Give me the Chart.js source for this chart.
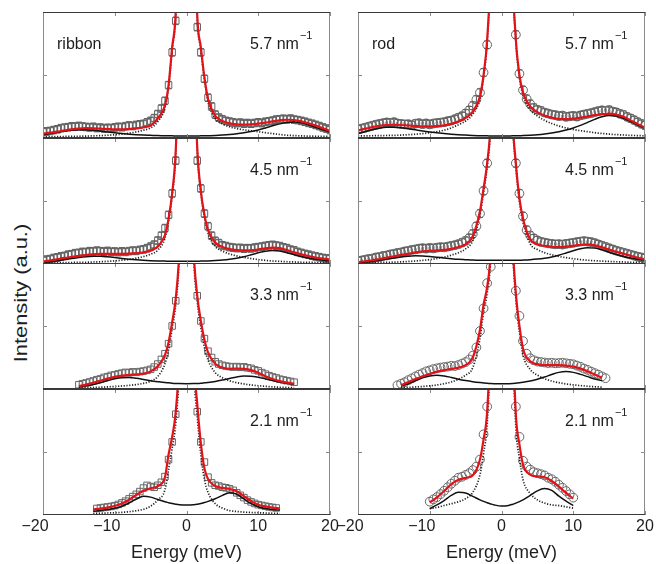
<!DOCTYPE html>
<html>
<head>
<meta charset="utf-8">
<script src="https://cdn.jsdelivr.net/npm/chart.js@4.4.1/dist/chart.umd.min.js"></script>
<style>
  html, body { margin: 0; padding: 0; background: #fff; }
  #figure { position: relative; width: 656px; height: 564px; overflow: hidden; font-family: "Liberation Sans", Arial, sans-serif; }
  #figure canvas { position: absolute; }
  #ylabel {
    position: absolute; left: 20px; top: 293px;
    transform: translate(-50%, -50%) rotate(-90deg) scaleX(1.15);
    white-space: nowrap; font-size: 19px; line-height: 1; color: #1e1e1e;
  }
</style>
</head>
<body>
<div id="figure"><div id="ylabel">Intensity (a.u.)</div></div>
<script>
// energy grids (meV)
const dataEnergy = [-20,-19.5,-19,-18.5,-18,-17.5,-17,-16.5,-16,-15.5,
  -15,-14.5,-14,-13.5,-13,-12.5,-12,-11.5,-11,-10.5,
  -10,-9.5,-9,-8.5,-8,-7.5,-7,-6.5,-6,-5.5,
  -5,-4.5,-4,-3.5,-3,-2.5,-2,-1.5,-1,-0.5,
  0,0.5,1,1.5,2,2.5,3,3.5,4,4.5,
  5,5.5,6,6.5,7,7.5,8,8.5,9,9.5,
  10,10.5,11,11.5,12,12.5,13,13.5,14,14.5,
  15,15.5,16,16.5,17,17.5,18,18.5,19,19.5,
  20];
const fitEnergy = [-20,-19,-18,-17,-16,-15,-14,-13,-12,-11,
  -10,-9,-8,-7,-6,-5,-4,-3,-2.5,-2,
  -1.5,-1,0,1,1.5,2,2.5,3,4,5,
  6,7,8,9,10,11,12,13,14,15,
  16,17,18,19,20];

const sampleNames = ["ribbon", "rod"];
const momentumLabels = ["5.7", "4.5", "3.3", "2.1"];
const xTicks = [-20, -10, 0, 10, 20];
const yTicks = [50];
const errorHalf = [3, 3, 0, 0];

// ---- ribbon 5.7 ----
const ribbon57Points = [4.8,5.2,5.6,6.3,6.9,7.8,8.2,8.6,9.2,9.0,
  9.6,9.1,8.8,8.4,8.9,7.9,8.3,7.6,8.1,7.8,
  8.4,8.9,8.6,9.4,9.9,9.5,10.4,10.8,11.2,12.4,
  13.6,15.8,19.0,23.4,29.5,42,68,93,null,null,
  null,null,null,88,68,47,32,25,18.6,16.2,
  14.8,13.6,13.0,12.4,11.8,12.2,11.4,11.9,11.3,11.9,
  12.4,11.8,12.9,13.3,13.8,14.6,14.9,15.3,14.8,15.4,
  14.6,14.2,13.6,12.9,12.0,11.3,10.4,9.5,8.4,7.5,
  6.4];
const ribbon57Fit = [3.4,4.2,5,6,6.9,7.5,7.8,7.7,7.4,7.1,
  6.9,6.9,7.1,7.6,8.5,9.8,15.5,26,42,72,
  100,200,500,200,97,72,48,31,17.5,13.5,
  11.6,10.8,10.6,10.8,11.4,12.2,13.2,14,14.5,14.3,
  13.2,11.6,9.8,7.7,5.6];
const ribbon57Modes = [2.5,3.5,4.5,5.5,6.2,6.5,6.5,6.1,5.5,4.8,
  4.1,3.5,3.0,2.6,2.3,2.1,1.9,1.8,1.7,1.7,
  1.6,1.6,1.6,1.6,1.6,1.7,1.7,1.8,2.0,2.3,
  2.7,3.3,4.1,5.1,6.4,8.0,9.7,11.2,12.3,12.6,
  12.0,10.5,8.5,6.5,4.6];
const ribbon57Central = [1.0,1.0,1.1,1.2,1.3,1.4,1.5,1.7,1.9,2.2,
  2.6,3.1,3.8,4.8,6.2,8.0,13,24,40,70,
  98,198,500,198,95,70,46,29,15.5,11.2,
  8.9,7.5,6.5,5.7,5.0,4.2,3.5,2.8,2.2,1.9,
  1.7,1.5,1.4,1.3,1.2];

// ---- rod 5.7 ----
const rod57Points = [6.8,7.5,8.2,9.0,9.8,10.6,11.2,11.8,12.4,12.0,
  12.6,11.6,11.2,10.8,11.0,10.2,11.4,11.8,11.0,11.6,
  10.8,11.5,11.9,12.2,12.6,13.4,13.9,15.0,16.2,17.4,
  19.5,22,25.6,30.5,36,52,74,null,null,null,
  null,null,null,null,82,51,38,31,27,24,
  22.4,21.6,20.2,19.4,18.6,18.2,17.4,17.8,16.8,17.2,
  17.6,17.0,18.0,18.6,19.2,19.8,20.6,21.4,22,21.6,
  22.2,21.0,20.4,19.2,18.4,16.8,15.6,14.2,12.6,11.2,
  10.0];
const rod57Fit = [6,7.3,8.6,9.7,10.3,10.5,10.3,9.9,9.5,9.2,
  9.2,9.5,10,11.2,13,16,21,33,50,78,
  140,300,600,300,140,78,50,36,25,20.5,
  17.8,16.2,15.2,15,15.4,16.2,17.2,18.2,19,19.4,
  18.6,16.8,14,11,8.2];
const rod57Modes = [3.5,5,6.5,7.8,8.5,8.6,8.2,7.4,6.5,5.6,
  4.8,4.1,3.5,3.0,2.6,2.3,2.0,1.8,1.7,1.7,
  1.6,1.6,1.6,1.6,1.7,1.7,1.8,1.9,2.2,2.6,
  3.2,4.0,5.0,6.4,8.0,10,12.4,14.8,16.8,17.8,
  17.4,15.6,13,10.2,7.5];
const rod57Central = [1.6,1.7,1.8,1.9,2.0,2.1,2.3,2.6,3.0,3.5,
  4.2,5.0,6.2,8.0,10.5,13.5,19,31,48,76,
  138,298,600,298,138,76,48,34,22.5,17.5,
  14,11.5,9.5,8,6.8,5.8,5,4.2,3.6,3.1,
  2.7,2.4,2.1,1.9,1.7];

// ---- ribbon 4.5 ----
const ribbon45Points = [2.8,3.5,3.9,4.8,5.2,6.0,6.4,7.4,7.8,8.6,
  8.8,9.6,9.4,10.2,10.0,10.6,10.2,9.8,10.4,9.6,
  9.9,9.4,10.0,9.6,10.2,10.6,10.4,11.2,11.6,12.6,
  13.8,15.4,18.6,22.5,28.5,39,56,82,null,null,
  null,null,null,82,60,40,30,22.5,18.4,16.6,
  14.8,14.2,13.4,13.0,12.6,12.8,12.2,12.6,12.4,13.0,
  13.4,13.8,14.4,14.8,15.2,14.6,14.2,13.2,12.6,11.4,
  10.8,9.6,8.8,8.0,7.4,6.6,6.0,5.4,4.8,4.4,
  4.0];
const ribbon45Fit = [2,2.8,3.8,4.8,5.6,6.4,7.1,7.6,8,8.1,
  8.1,8.1,8.2,8.6,9.3,10.6,13.8,23,36,56,
  90,180,450,180,92,58,39,27,17,13.5,
  11.8,11,10.8,10.9,11.5,12.4,13,12.6,11,9.2,
  7.6,6.2,5.1,4.3,3.7];
const ribbon45Modes = [1.2,1.8,2.6,3.5,4.4,5.2,5.8,6.1,6.1,5.7,
  5.1,4.4,3.8,3.3,2.9,2.6,2.4,2.3,2.2,2.2,
  2.2,2.2,2.2,2.2,2.2,2.3,2.3,2.4,2.7,3.1,
  3.7,4.6,5.8,7.3,8.9,10.2,10.8,10.4,9.0,7.4,
  5.9,4.7,3.7,3.0,2.4];
const ribbon45Central = [0.8,0.9,1.0,1.1,1.2,1.3,1.4,1.6,1.8,2.1,
  2.5,3.0,3.6,4.6,5.9,7.8,11,20.5,34,54,
  88,178,450,178,90,56,37,24.5,14,10.2,
  8,6.4,5.2,4.3,3.5,2.9,2.4,2.1,1.8,1.6,
  1.4,1.3,1.2,1.1,1.0];

// ---- rod 4.5 ----
const rod45Points = [2.4,2.8,3.4,4.0,4.4,5.2,5.6,6.4,6.8,7.6,
  8.0,8.8,9.2,10.0,10.4,11.2,11.6,12.2,12.6,12.2,
  12.8,12.4,13.0,13.4,13.2,13.8,14.4,15.0,15.8,17.0,
  18.4,20.6,24,30,40,58,80,null,null,null,
  null,null,null,null,80,56,38,27,22.6,20.4,
  18.8,17.6,17.0,16.4,16.0,15.6,15.8,15.4,16.0,16.4,
  16.8,17.4,17.8,18.2,17.8,17.4,16.6,15.6,14.6,13.6,
  12.6,11.6,10.6,9.8,9.0,8.2,7.4,6.6,5.8,5.2,
  4.6];
const rod45Fit = [1.6,2.2,3,4,5,6.1,7.2,8.2,9.2,10,
  10.5,10.8,11.2,12,13.5,15.6,22,42,60,80,
  115,220,500,220,120,80,52,36,19.5,15.5,
  14.5,13.7,13.5,13.8,14.5,15.3,15.6,14.8,13.2,11.4,
  9.6,8,6.5,5,3.7];
const rod45Modes = [1.0,1.5,2.2,3.0,3.9,4.8,5.6,6.2,6.5,6.4,
  6.0,5.4,4.8,4.2,3.7,3.4,3.1,3.0,2.9,2.9,
  2.9,2.9,2.9,2.9,2.9,3.0,3.0,3.1,3.4,3.9,
  4.6,5.6,7.0,8.7,10.5,12.1,12.9,12.6,11.2,9.3,
  7.5,6.0,4.7,3.7,2.9];
const rod45Central = [0.8,0.9,1.0,1.2,1.3,1.5,1.7,2.0,2.4,2.9,
  3.5,4.3,5.5,7.0,9.0,12,18.5,39,57,77,
  112,217,500,217,117,77,49,33,16,11.5,
  9,7.3,6,5,4.2,3.5,3.0,2.6,2.3,2.0,
  1.8,1.6,1.4,1.3,1.2];

// ---- ribbon 3.3 ----
const ribbon33Points = [null,null,null,null,null,null,null,null,null,null,
  3.4,4.2,4.8,5.6,6.4,7.4,8.0,9.2,9.8,10.8,
  11.2,12.0,12.6,13.2,12.8,13.6,13.2,13.8,14.2,14.8,
  15.6,17.4,19.8,23.5,28,36,50,70,null,null,
  null,null,null,74,54,40,30,25,21.6,19.8,
  18.8,18.2,17.8,17.4,17.8,17.2,17.6,16.8,16.4,15.2,
  14.4,13.0,11.8,10.6,9.6,8.8,7.8,7.2,6.6,6.0,
  5.4,null,null,null,null,null,null,null,null,null,
  null];
const ribbon33Fit = [null,null,null,null,null,2.2,3.5,5,6.6,8.2,
  9.6,10.6,11.2,11.6,12.2,14,18,27,37,53,
  72,110,300,110,74,54,39,29,20,17,
  16,16.2,16,15,12.8,10.2,8,6.2,5,4.2,
  null,null,null,null,null];
const ribbon33Modes = [null,null,null,null,null,1.6,2.5,3.6,5.0,6.6,
  8.1,9.0,9.1,8.5,7.6,6.6,5.8,5.1,4.9,4.6,
  4.4,4.3,4.2,4.3,4.4,4.6,4.9,5.2,6.0,7.1,
  8.4,9.6,10.3,10.2,9.3,8.0,6.7,5.5,4.5,3.7,
  null,null,null,null,null];
const ribbon33Central = [null,null,null,null,null,0.9,1.0,1.2,1.4,1.7,
  2.0,2.4,2.9,3.5,4.5,6.2,10,20,31,48,
  67,105,300,105,69,49,33,23,13,9,
  6.5,5,4,3.2,2.6,2.1,1.7,1.4,1.2,1.0,
  null,null,null,null,null];

// ---- rod 3.3 ----
const rod33Points = [null,null,null,null,null,null,null,null,null,null,
  null,3.0,4.2,5.4,7.0,8.4,10.0,11.4,12.6,14.0,
  14.8,15.8,16.4,17.0,17.4,17.8,18.4,18.2,19.0,20.2,
  21.4,23.4,26.5,33,46,64,84,97,null,null,
  null,null,null,null,78,58,38,28,24.4,22.8,
  21.8,21.4,21.0,20.6,20.8,20.4,20.6,20.8,20.4,20.0,
  19.6,18.6,17.6,16.2,15.2,13.8,12.6,11.4,10.0,8.6,
  null,null,null,null,null,null,null,null,null,null,
  null];
const rod33Fit = [null,null,null,null,null,null,3,5.5,8,10,
  12,13.8,15,16,17,19,25,47,67,81,
  110,200,500,200,120,76,50,32,22,19.7,
  19,19,18.9,18.5,17.8,16.2,14,11.5,9,null,
  null,null,null,null,null];
const rod33Modes = [null,null,null,null,null,null,2.3,4.2,6.5,8.8,
  10.4,11,10.4,9.2,7.8,6.7,5.8,5.1,4.8,4.5,
  4.3,4.2,4.1,4.2,4.3,4.6,4.9,5.3,6.3,7.7,
  9.5,11.5,13.2,13.8,13.2,11.6,9.8,8.0,6.6,null,
  null,null,null,null,null];
const rod33Central = [null,null,null,null,null,null,1,1.3,1.6,2,
  2.5,3.2,4.2,5.6,7.8,11,17,40,61,76,
  105,195,500,195,115,71,45,27,15.5,11,
  8.2,6.3,5,4,3.3,2.7,2.2,1.8,1.5,null,
  null,null,null,null,null];

// ---- ribbon 2.1 ----
const ribbon21Points = [null,null,null,null,null,null,null,null,null,null,
  null,null,null,null,null,5.2,5.6,6.0,6.4,6.8,
  7.4,8.4,9.6,11.0,12.8,14.6,16.4,18.6,21.4,23.5,
  22.6,22.0,23.6,26.0,30.5,44,58,80,null,null,
  null,null,null,82,58,42,30,25.5,23.6,23.0,
  22.0,21.6,20.8,19.6,17.6,15.6,13.8,11.8,10.4,9.2,
  8.2,7.6,7.0,6.4,6.0,5.6,null,null,null,null,
  null,null,null,null,null,null,null,null,null,null,
  null];
const ribbon21Fit = [null,null,null,null,null,null,null,4.4,5.0,5.9,
  7.1,9.1,12.1,16,19.3,21.2,23,30,48,62,
  82,130,400,130,88,57,37,28.5,23,21.5,
  20.6,18.8,15,11,8.2,6.8,5.8,5.2,null,null,
  null,null,null,null,null];
const ribbon21Modes = [null,null,null,null,null,null,null,3.0,3.6,4.3,
  5.3,7.0,9.5,12.6,14.8,14.2,12.3,10.5,9.8,9.1,
  8.6,8.2,7.9,8.2,8.6,9.2,9.9,10.8,12.9,15.6,
  17.6,16.5,12.8,9.2,6.6,5.2,4.4,3.9,null,null,
  null,null,null,null,null];
const ribbon21Central = [null,null,null,null,null,null,null,1.2,1.4,1.6,
  1.8,2.1,2.6,3.4,4.5,7,12,20,36,53,
  73,120,400,120,78,48,28,18,9,5.5,
  3.5,2.8,2.3,2.0,1.8,1.6,1.4,1.3,null,null,
  null,null,null,null,null];

// ---- rod 2.1 ----
const rod21Points = [null,null,null,null,null,null,null,null,null,null,
  null,null,null,null,null,null,null,null,null,null,
  10.6,12.4,14.2,16.6,19.2,22.0,24.8,27.2,29.6,30.4,
  31.8,33.2,35.6,38.4,44,64,86,null,null,null,
  null,null,null,null,86,62,43,38.4,36,34.0,
  33.2,32.4,31.4,29.6,28.4,26.4,24.0,21.6,19.0,16.4,
  13.8,null,null,null,null,null,null,null,null,null,
  null,null,null,null,null,null,null,null,null,null,
  null];
const rod21Fit = [null,null,null,null,null,null,null,null,null,null,
  10,14,19,24.5,28,29.5,31.5,44,60,82,
  150,300,600,300,160,80,56,40,32,30.6,
  30,27,22.5,17.5,13,null,null,null,null,null,
  null,null,null,null,null];
const rod21Modes = [null,null,null,null,null,null,null,null,null,null,
  5,8,11.5,15.5,18,17.5,14.8,12,10.8,9.7,
  8.8,8,7.1,7.6,8.4,9.4,10.6,12,15.5,19.2,
  21,19.5,15,11,7.5,null,null,null,null,null,
  null,null,null,null,null];
const rod21Central = [null,null,null,null,null,null,null,null,null,null,
  5,6,7.5,9,10.5,13,18,32,49,72,
  140,290,600,290,150,70,45,28,17,12,
  9.5,8,7.5,6.5,5.5,null,null,null,null,null,
  null,null,null,null,null];

const panels = [
  { col: 0, row: 0, points: ribbon57Points, fit: ribbon57Fit, modes: ribbon57Modes, central: ribbon57Central },
  { col: 1, row: 0, points: rod57Points, fit: rod57Fit, modes: rod57Modes, central: rod57Central },
  { col: 0, row: 1, points: ribbon45Points, fit: ribbon45Fit, modes: ribbon45Modes, central: ribbon45Central },
  { col: 1, row: 1, points: rod45Points, fit: rod45Fit, modes: rod45Modes, central: rod45Central },
  { col: 0, row: 2, points: ribbon33Points, fit: ribbon33Fit, modes: ribbon33Modes, central: ribbon33Central },
  { col: 1, row: 2, points: rod33Points, fit: rod33Fit, modes: rod33Modes, central: rod33Central },
  { col: 0, row: 3, points: ribbon21Points, fit: ribbon21Fit, modes: ribbon21Modes, central: ribbon21Central },
  { col: 1, row: 3, points: rod21Points, fit: rod21Fit, modes: rod21Modes, central: rod21Central },
];

// layout of the grid
const panelLeft = [43, 358];
const panelWidth = 287;
const rowTop = [12, 138, 263, 389];
const panelHeight = 126;
const padX = 24;
const padTop = 6;
const axisHeight = 49;
const markerStyle = ["rect", "circle"];
const markerRadius = [4.6, 4.4];
const FONT = '"Liberation Sans", Arial, Helvetica, sans-serif';

Chart.defaults.font.family = FONT;
Chart.defaults.color = "#1e1e1e";

const figure = document.getElementById("figure");

function toXY(xs, ys) {
  return xs.map((e, i) => ({ x: e, y: ys[i] }));
}

function panelDecor(p) {
  return {
    id: "panelDecor",
    beforeDatasetsDraw(chart) {
      const half = errorHalf[p.row];
      if (!half) return;
      const { ctx, chartArea: a, scales: { x, y } } = chart;
      ctx.save();
      ctx.beginPath();
      ctx.rect(a.left, a.top, a.width, a.height);
      ctx.clip();
      ctx.strokeStyle = "#555";
      ctx.lineWidth = 1;
      ctx.beginPath();
      chart.data.datasets[3].data.forEach((pt) => {
        if (pt.y === null) return;
        const px = x.getPixelForValue(pt.x);
        const t = y.getPixelForValue(pt.y + half);
        const b = y.getPixelForValue(pt.y - half);
        ctx.moveTo(px, t); ctx.lineTo(px, b);
        ctx.moveTo(px - 3, t); ctx.lineTo(px + 3, t);
        ctx.moveTo(px - 3, b); ctx.lineTo(px + 3, b);
      });
      ctx.stroke();
      ctx.restore();
    },
    afterDatasetsDraw(chart) {
      const { ctx, chartArea: a, scales: { x, y } } = chart;
      ctx.save();
      ctx.lineWidth = 1;

      // sides and inward ticks
      ctx.strokeStyle = "#8a8a8a";
      ctx.beginPath();
      ctx.moveTo(a.left + 0.5, a.top); ctx.lineTo(a.left + 0.5, a.bottom);
      ctx.moveTo(a.right - 0.5, a.top); ctx.lineTo(a.right - 0.5, a.bottom);
      xTicks.forEach((v) => {
        const px = Math.round(x.getPixelForValue(v)) + 0.5;
        ctx.moveTo(px, a.top); ctx.lineTo(px, a.top + 4);
        ctx.moveTo(px, a.bottom); ctx.lineTo(px, a.bottom - 4);
      });
      yTicks.forEach((v) => {
        const py = Math.round(y.getPixelForValue(v)) + 0.5;
        ctx.moveTo(a.left, py); ctx.lineTo(a.left + 4, py);
        ctx.moveTo(a.right, py); ctx.lineTo(a.right - 4, py);
      });
      ctx.stroke();

      // top and bottom
      ctx.strokeStyle = "#3a3a3a";
      ctx.beginPath();
      ctx.moveTo(a.left, a.top + 0.5); ctx.lineTo(a.right, a.top + 0.5);
      ctx.moveTo(a.left, a.bottom - 0.5); ctx.lineTo(a.right, a.bottom - 0.5);
      ctx.stroke();

      // labels
      ctx.fillStyle = "#1e1e1e";
      ctx.textBaseline = "middle";
      ctx.textAlign = "left";
      ctx.font = "16px " + FONT;
      if (p.row === 0) ctx.fillText(sampleNames[p.col], a.left + 14, a.top + 33);
      const main = momentumLabels[p.row] + " nm";
      const mx = a.left + 207;
      ctx.fillText(main, mx, a.top + 33);
      const mw = ctx.measureText(main).width;
      ctx.font = "11px " + FONT;
      ctx.fillText("\u22121", mx + mw + 1, a.top + 24);
      ctx.restore();
    },
  };
}

function drawPanel(p) {
  const bottomRow = p.row === rowTop.length - 1;
  const w = panelWidth + 2 * padX;
  const h = padTop + panelHeight + (bottomRow ? axisHeight : padTop);
  const canvas = document.createElement("canvas");
  canvas.width = w;
  canvas.height = h;
  canvas.style.width = w + "px";
  canvas.style.height = h + "px";
  canvas.style.left = (panelLeft[p.col] - padX) + "px";
  canvas.style.top = (rowTop[p.row] - padTop) + "px";
  figure.appendChild(canvas);

  const lineBase = {
    pointRadius: 0,
    fill: false,
    tension: 0.4,
    cubicInterpolationMode: "monotone",
    spanGaps: false,
    clip: 0,
  };

  new Chart(canvas, {
    type: "line",
    data: {
      datasets: [
        { ...lineBase, data: toXY(fitEnergy, p.fit), borderColor: "rgb(226,18,24)", borderWidth: 2.2 },
        { ...lineBase, data: toXY(fitEnergy, p.modes), borderColor: "#111", borderWidth: 1.5 },
        { ...lineBase, data: toXY(fitEnergy, p.central), borderColor: "#222", borderWidth: 1.7, borderDash: [1.2, 1.6] },
        {
          data: toXY(dataEnergy, p.points),
          showLine: false,
          pointStyle: markerStyle[p.col],
          pointRadius: markerRadius[p.col],
          pointBorderColor: "#666",
          pointBorderWidth: 1,
          pointBackgroundColor: "rgba(0,0,0,0)",
          clip: 0,
        },
      ],
    },
    options: {
      responsive: false,
      animation: false,
      events: [],
      layout: { padding: { left: padX, right: padX, top: padTop, bottom: bottomRow ? 0 : padTop } },
      plugins: { legend: { display: false }, tooltip: { enabled: false } },
      scales: {
        x: {
          type: "linear",
          min: -20,
          max: 20,
          display: bottomRow,
          grid: { display: false, drawTicks: false },
          border: { display: false },
          afterBuildTicks: (s) => { s.ticks = xTicks.map((v) => ({ value: v })); },
          afterFit: (s) => { s.height = bottomRow ? axisHeight : 0; },
          ticks: {
            font: { size: 16 },
            color: "#1e1e1e",
            padding: 1.5,
            maxRotation: 0,
            autoSkip: false,
            callback: (v) => (v < 0 ? "\u2212" + (-v) + "\u2003" : String(v)),
          },
          title: {
            display: true,
            text: "Energy (meV)",
            font: { size: 18 },
            color: "#1e1e1e",
            padding: { top: 0, bottom: 0 },
          },
        },
        y: { min: 0, max: 100, display: false },
      },
    },
    plugins: [panelDecor(p)],
  });
}

panels.forEach(drawPanel);
</script>
</body>
</html>
